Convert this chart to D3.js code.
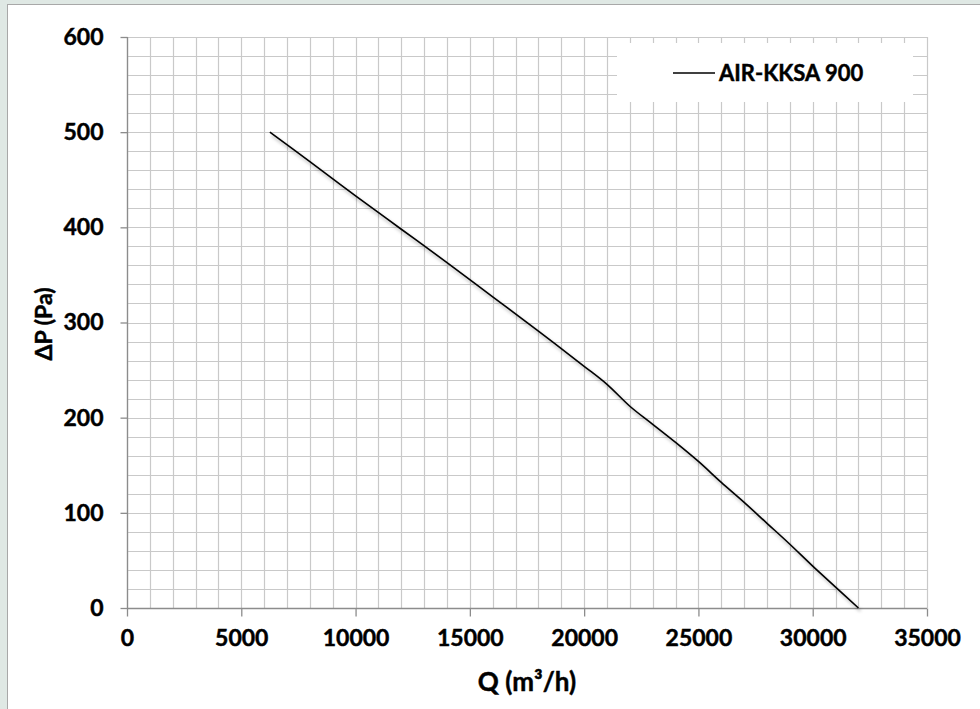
<!DOCTYPE html>
<html>
<head>
<meta charset="utf-8">
<script src="https://cdn.jsdelivr.net/npm/d3@7"></script>
<style>
  html, body { margin: 0; padding: 0; background: #dfe8e4; }
  svg { display: block; }
  text { font-family: Lato, "Open Sans", sans-serif; font-weight: 700; fill: #000; stroke: #000; stroke-width: 0.45px; }
</style>
</head>
<body>
<svg id="chart" width="980" height="709"></svg>
<script>
// ---- data ----
const flow     = [6250, 8000, 10000, 12000, 14000, 16000, 18000, 20000, 21000, 22000, 23000, 24000, 25000, 26000, 27000, 28000, 29000, 30000, 31000, 32000];
const pressure = [500, 469, 433, 398, 363, 327, 291, 254, 235, 212, 193, 174, 154, 132, 111, 89, 67, 44, 22, 0];
const seriesName = "AIR-KKSA 900";
const xTicks = [0, 5000, 10000, 15000, 20000, 25000, 30000, 35000];
const yTicks = [0, 100, 200, 300, 400, 500, 600];
const xMinorStep = 1000;
const yMinorStep = 20;
const xTitle = "Q (m³/h)";
const yTitle = "ΔP (Pa)";

const svg = d3.select("#chart");

// panel
svg.append("rect").attr("x", 7.5).attr("y", 4.5).attr("width", 990).attr("height", 720)
  .attr("fill", "#fff").attr("stroke", "#a8a8a8").attr("stroke-width", 1);

const x = d3.scaleLinear().domain([0, 35000]).range([127, 927]);
const y = d3.scaleLinear().domain([0, 600]).range([608, 37]);

// minor grid
const xGrid = d3.range(0, 35000 + 1, xMinorStep);
const yGrid = d3.range(0, 600 + 1, yMinorStep);
const grid = svg.append("g").attr("stroke", "#c9c9c9").attr("stroke-width", 1.2);
grid.selectAll("line.v").data(xGrid).join("line").attr("class", "v")
  .attr("x1", d => Math.round(x(d)) + 0.5).attr("x2", d => Math.round(x(d)) + 0.5)
  .attr("y1", y(600)).attr("y2", y(0));
grid.selectAll("line.h").data(yGrid).join("line").attr("class", "h")
  .attr("y1", d => Math.round(y(d)) + 0.5).attr("y2", d => Math.round(y(d)) + 0.5)
  .attr("x1", x(0)).attr("x2", x(35000));

// axes
const xAxis = d3.axisBottom(x).tickValues(xTicks).tickSize(8).tickPadding(13).tickFormat(d3.format("d"));
const yAxis = d3.axisLeft(y).tickValues(yTicks).tickSize(7).tickPadding(17).tickFormat(d3.format("d"));

const gx = svg.append("g").attr("transform", "translate(0,608.5)").call(xAxis);
const gy = svg.append("g").attr("transform", "translate(127.5,0)").call(yAxis);
[gx, gy].forEach(g => {
  g.select(".domain").attr("stroke", "#8c8c8c").attr("stroke-width", 1.3);
  g.selectAll(".tick line").attr("stroke", "#8c8c8c").attr("stroke-width", 1.3);
  g.selectAll(".tick text").style("font-family", "Lato, sans-serif").style("font-weight", 700)
    .style("font-size", "23px").attr("fill", "#000");
});
gx.select(".domain").attr("d", `M${x(0)},0H${x(35000)}`);
gy.select(".domain").attr("d", `M0,${y(0)}V${y(600)}`);

// axis titles
svg.append("text").attr("x", 527).attr("y", 691).attr("text-anchor", "middle")
  .style("font-size", "26px").text(xTitle);
svg.append("text").attr("transform", "translate(52,324) rotate(-90)").attr("text-anchor", "middle")
  .style("font-size", "23px").text(yTitle);

// series
const pts = flow.map((q, i) => [q, pressure[i]]);
const line = d3.line().x(d => x(d[0])).y(d => y(d[1])).curve(d3.curveCatmullRom.alpha(0.5));

const defs = svg.append("defs");
defs.append("filter").attr("id", "blur").attr("x", "-5%").attr("y", "-5%").attr("width", "110%").attr("height", "110%")
  .append("feGaussianBlur").attr("stdDeviation", 1.5);

svg.append("path").datum(pts).attr("d", line).attr("fill", "none")
  .attr("stroke", "#000").attr("stroke-opacity", 0.18).attr("stroke-width", 3)
  .attr("transform", "translate(2,3)").attr("filter", "url(#blur)");
svg.append("path").datum(pts).attr("d", line).attr("fill", "none")
  .attr("stroke", "#000").attr("stroke-width", 1.6);

// legend
const lg = svg.append("g");
lg.append("rect").attr("x", 617).attr("y", 43).attr("width", 296).attr("height", 59).attr("fill", "#fff");
lg.append("line").attr("x1", 673).attr("x2", 715).attr("y1", 73).attr("y2", 73)
  .attr("stroke", "#000").attr("stroke-width", 1.6);
lg.append("text").attr("x", 719).attr("y", 81).style("font-size", "22px").text(seriesName);
</script>
</body>
</html>
